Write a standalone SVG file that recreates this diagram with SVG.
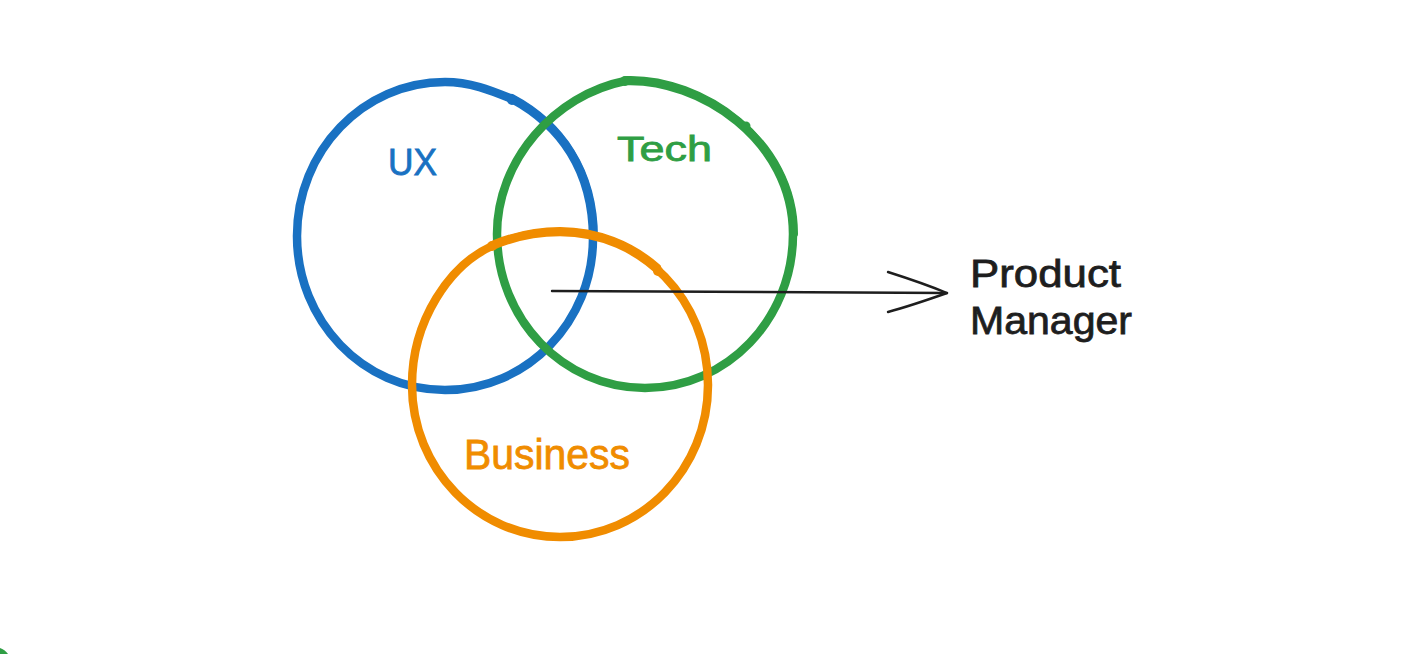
<svg xmlns="http://www.w3.org/2000/svg" width="1410" height="654" viewBox="0 0 1410 654">
  <style>
    .ring { fill: none; stroke-linecap: round; stroke-linejoin: round; }
    .blue { stroke: #1971c2; }
    .green { stroke: #2f9e44; }
    .orange { stroke: #f08c00; }
    .main { stroke-width: 8.5; }
    .extra { stroke-width: 6; }
    .lbl { font-family: "Liberation Sans", "DejaVu Sans", sans-serif; font-weight: normal; stroke-width: 0.8; }
    .conn { fill: none; stroke: #1e1e1e; stroke-width: 2.4; stroke-linecap: round; stroke-linejoin: round; }
  </style>
  <rect x="0" y="0" width="1410" height="654" fill="#ffffff"/>

  <g id="node-ux">
    <path class="ring blue main" d="M 512 99 C 560 125 593 170 593 238 C 593 322 527 390 445 390 C 363 390 297 321 297 236 C 297 151 363 82 445 82 C 470 82 490 90 512 99"/>
    <path class="ring blue extra" d="M 512 97 C 561 123 595 170 595 238"/>
    <circle cx="512" cy="100" r="5" fill="#1971c2"/>
    <text class="lbl" x="388" y="175" font-size="36" fill="#1971c2" stroke="#1971c2" textLength="49" lengthAdjust="spacingAndGlyphs">UX</text>
  </g>

  <g id="node-tech">
    <path class="ring green main" d="M 625 81 C 700 78 793 140 793 234 C 793 319 727 388 645 388 C 563 388 497 319 497 234 C 497 160 555 95 625 81"/>
    <path class="ring green extra" d="M 627 79 C 702 77 795 140 795 234"/>
    <circle cx="625" cy="81" r="5" fill="#2f9e44"/>
    <circle cx="746" cy="126" r="4.5" fill="#2f9e44"/>
    <text class="lbl" x="617" y="161" font-size="35" fill="#2f9e44" stroke="#2f9e44" textLength="95" lengthAdjust="spacingAndGlyphs">Tech</text>
  </g>

  <g id="node-business">
    <path class="ring orange main" d="M 492 246 C 515 236 540 232 560 232 C 642 232 708 300 708 385 C 708 469 642 537 560 537 C 478 537 412 469 412 385 C 412 320 450 265 492 246"/>
    <path class="ring orange extra" d="M 494 243 C 517 234 540 230 560 230 C 597 230 632 244 658 267"/>
    <circle cx="492" cy="246" r="5" fill="#f08c00"/>
    <circle cx="658" cy="271" r="5" fill="#f08c00"/>
    <text class="lbl" x="464" y="469" font-size="42" fill="#f08c00" stroke="#f08c00" textLength="166" lengthAdjust="spacingAndGlyphs">Business</text>
  </g>

  <g id="node-product-manager">
    <text class="lbl" x="970" y="287" font-size="39" fill="#1e1e1e" stroke="#1e1e1e" textLength="151" lengthAdjust="spacingAndGlyphs">Product</text>
    <text class="lbl" x="970" y="334" font-size="39" fill="#1e1e1e" stroke="#1e1e1e" textLength="162" lengthAdjust="spacingAndGlyphs">Manager</text>
  </g>

  <g id="connectors">
    <path class="conn" d="M 552 291 L 947 293"/>
    <path class="conn" d="M 888 272 C 910 279 930 286 947 293 C 930 299 910 306 888 312"/>
  </g>

  <path d="M 0 648 C 3 649 6 651 8 654 L 0 654 Z" fill="#2f9e44"/>
</svg>
